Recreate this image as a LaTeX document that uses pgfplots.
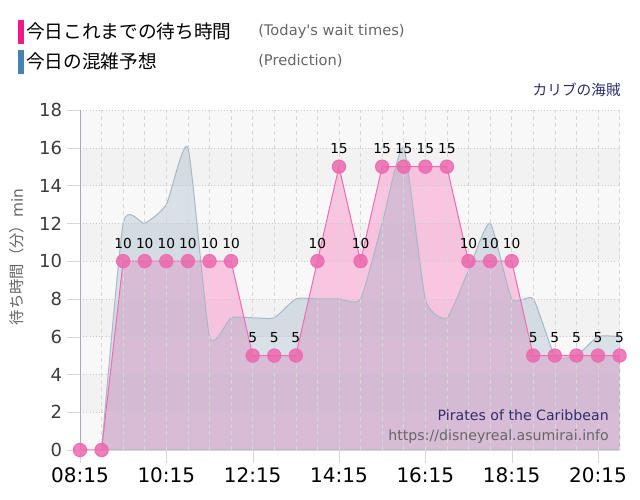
\documentclass[border=0pt]{standalone}
\usepackage{pgfplots}
\usepackage{pgfplotstable}
\pgfplotsset{compat=1.18}
\usepackage{fontspec}
\setmainfont{DejaVu Sans}
\newfontfamily\jp{Noto Sans CJK JP}
\definecolor{bglight}{RGB}{248,248,248}
\definecolor{bgdark}{RGB}{242,242,242}
\definecolor{pinkfill}{RGB}{251,147,203}
\definecolor{pinkline}{RGB}{240,107,179}
\definecolor{pinkmark}{RGB}{236,100,172}
\definecolor{bluefill}{RGB}{131,166,188}
\definecolor{blueline}{RGB}{168,184,196}
\definecolor{legpink}{RGB}{240,24,140}
\definecolor{legblue}{RGB}{70,130,180}
\definecolor{navy}{RGB}{45,45,110}
\definecolor{txtgray}{RGB}{102,102,102}
\definecolor{gridv}{RGB}{215,215,215}
\definecolor{gridh}{RGB}{200,200,200}

\pgfplotstableread{
t v lab
8.25 0 {}
8.75 0 {}
9.25 10 10
9.75 10 10
10.25 10 10
10.75 10 10
11.25 10 10
11.75 10 10
12.25 5 5
12.75 5 5
13.25 5 5
13.75 10 10
14.25 15 15
14.75 10 10
15.25 15 15
15.75 15 15
16.25 15 15
16.75 15 15
17.25 10 10
17.75 10 10
18.25 10 10
18.75 5 5
19.25 5 5
19.75 5 5
20.25 5 5
20.75 5 5
}\actual

\pgfplotstableread{
t v
8.75 0
9.25 12
9.75 12
10.25 13
10.75 16
11.25 6
11.75 7
12.25 7
12.75 7
13.25 8
13.75 8
14.25 8
14.75 8
15.25 12
15.75 16
16.25 8
16.75 7
17.25 9.5
17.75 12
18.25 8
18.75 8
19.25 5
19.75 5
20.25 6
20.75 6
}\pred

\begin{document}
\begin{tikzpicture}[x=0.75pt,y=0.75pt]
\path[use as bounding box] (0,0) rectangle (640,500);
\begin{axis}[
  at={(60pt,37.5pt)}, anchor=south west,
  scale only axis, width=405pt, height=255pt,
  xmin=8.25, xmax=20.76, ymin=0, ymax=18,
  clip=false,
  axis on top,
  axis lines*=left,
  axis line style={-},
  x axis line style={draw=gridv},
  y axis line style={draw={rgb,255:red,170;green,170;blue,180}},
  axis background/.style={fill=bglight},
  xtick={8.25,10.25,12.25,14.25,16.25,18.25,20.25},
  xticklabels={08:15,10:15,12:15,14:15,16:15,18:15,20:15},
  minor xtick={8.75,9.25,9.75,10.75,11.25,11.75,12.75,13.25,13.75,14.75,15.25,15.75,16.75,17.25,17.75,18.75,19.25,19.75,20.75},
  ytick={0,2,...,18},
  grid=both,
  major x grid style={draw=gridv, dash pattern=on 3pt off 2.5pt},
  minor x grid style={draw=gridv, dash pattern=on 3pt off 2.5pt},
  major y grid style={draw=gridh, dotted},
  tick align=outside,
  major tick length=10pt,
  minor tick length=0pt,
  tick style={draw=gridv},
  /pgf/number format/assume math mode=true,
  yticklabel style={font=\fontsize{13.5}{16}\selectfont, text={rgb,255:red,60;green,60;blue,60}},
  xticklabel style={font=\fontsize{15}{18}\selectfont, text=black},
]
\fill[bgdark] (axis cs:8.25,2) rectangle (axis cs:20.76,4);
\fill[bgdark] (axis cs:8.25,6) rectangle (axis cs:20.76,8);
\fill[bgdark] (axis cs:8.25,10) rectangle (axis cs:20.76,12);
\fill[bgdark] (axis cs:8.25,14) rectangle (axis cs:20.76,16);
% actual fill
\addplot[draw=none, fill=pinkfill, fill opacity=0.5] table[x=t,y=v] {\actual} \closedcycle;
% prediction
\addplot[smooth, tension=0.33, draw=blueline, line width=0.75pt, fill=bluefill, fill opacity=0.28] table[x=t,y=v] {\pred} \closedcycle;
% actual line + marks
\addplot[draw=pinkline, line width=0.75pt, mark=*, mark size=5pt,
  mark options={draw=none, fill=pinkmark, fill opacity=0.82},
  point meta=explicit symbolic,
  nodes near coords,
  every node near coord/.append style={anchor=center, yshift=13.5pt, font=\fontsize{10.3}{12}\selectfont, text=black, fill opacity=1, text opacity=1}
] table[x=t,y=v,meta=lab] {\actual};
\end{axis}
% y label
\node[rotate=90, text=txtgray, font=\fontsize{11.5}{13}\selectfont] at (17,243) {{\jp 待ち時間（分）}min};
% legend
\fill[legpink] (18,456) rectangle (24,480);
\fill[legblue] (18,426) rectangle (24,450);
\node[anchor=west, inner sep=0pt, font=\fontsize{14}{16}\selectfont] at (26,469) {\jp 今日これまでの待ち時間};
\node[anchor=west, inner sep=0pt, font=\fontsize{14}{16}\selectfont] at (26,439) {\jp 今日の混雑予想};
\node[anchor=west, inner sep=0pt, text=txtgray, font=\fontsize{11}{13}\selectfont] at (258,469) {(Today\textquotesingle s wait times)};
\node[anchor=west, inner sep=0pt, text=txtgray, font=\fontsize{11}{13}\selectfont] at (258,439) {(Prediction)};
% title
\node[anchor=east, inner sep=0pt, text=navy, font=\fontsize{11}{13}\selectfont] at (621,410) {\jp カリブの海賊};
% watermark
\node[anchor=east, inner sep=0pt, text=navy, font=\fontsize{10.6}{13}\selectfont] at (609,85) {Pirates of the Caribbean};
\node[anchor=east, inner sep=0pt, text=txtgray, font=\fontsize{10.6}{13}\selectfont] at (609,63) {https://disneyreal.asumirai.info};
\end{tikzpicture}
\end{document}
